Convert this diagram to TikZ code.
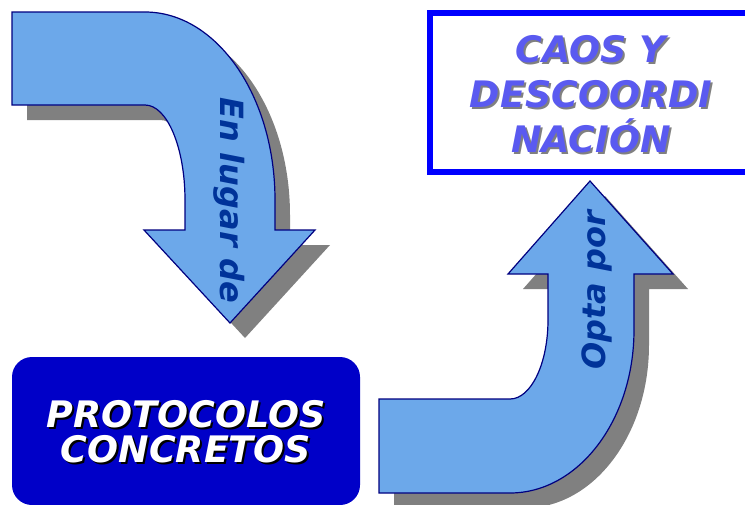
\documentclass[tikz,border=0pt]{standalone}
\usepackage{fontspec}
\setmainfont{DejaVu Sans}
\definecolor{arrowfill}{RGB}{108,168,234}
\definecolor{arrowline}{RGB}{0,0,128}
\definecolor{shadowgrey}{RGB}{128,128,128}
\definecolor{boxdark}{RGB}{0,0,200}
\definecolor{boxline}{RGB}{0,0,255}
\definecolor{chaostext}{RGB}{90,90,240}
\definecolor{arrowtext}{RGB}{0,51,153}
\newcommand\ArrowOnePath{(12,12) -- (145,12) .. controls (216.8,12) and (275,96.2) .. (275,200) -- (275,230) -- (315,230) -- (230,323) -- (144,230) -- (185,230) -- (185,200) .. controls (185,147.6) and (167.1,105) .. (145,105) -- (12,105) -- cycle}
\newcommand\ArrowTwoPath{(379,493) -- (379,399) -- (510,399) .. controls (531,399) and (548,363.6) .. (548,320) -- (548,274) -- (508,274) -- (590,181) -- (673,274) -- (634,274) -- (634,330) .. controls (634,420) and (578.4,493) .. (510,493) -- cycle}
\newcommand\shadowed[3]{\rlap{\kern2pt\raisebox{-2pt}{\color{#1}#3}}{\color{#2}#3}}
\tikzset{
  arrowshadow/.style={fill=shadowgrey, draw=none},
  bentarrow/.style={fill=arrowfill, draw=arrowline, line width=1.2pt, line join=miter},
  bigtext/.style={font=\fontsize{36.5}{45}\selectfont\bfseries\itshape, inner sep=0pt, anchor=base},
  arrowlabel/.style={font=\fontsize{32}{38}\selectfont\bfseries\itshape, text=arrowtext, inner sep=0pt, anchor=base},
}
\begin{document}
\begin{tikzpicture}[x=1pt,y=-1pt]
\useasboundingbox (0,0) rectangle (745,504);
\clip (0,0) rectangle (745,504);
% top-left bent arrow
\path[arrowshadow, shift={(15,15)}] \ArrowOnePath;
\path[bentarrow] \ArrowOnePath;
\node[arrowlabel, rotate=-90] (enlugar) at (220,200) {En lugar de};
% bottom-right bent arrow
\path[arrowshadow, shift={(15,15)}] \ArrowTwoPath;
\path[bentarrow] \ArrowTwoPath;
\node[arrowlabel, rotate=90] (optapor) at (605,290) {Opta por};
% chaos box
\draw[boxline, line width=6pt] (430,13) rectangle (760,172);
\foreach \t/\y/\n in {CAOS Y/62/a,DESCOORDI/107/b,NACIÓN/152/c}{
  \node[bigtext] (caos\n) at (591,\y) {\shadowed{shadowgrey}{chaostext}{\t}};
}
% protocol box
\fill[boxdark, rounded corners=20pt] (12,357) rectangle (360,505);
\foreach \t/\y/\n in {PROTOCOLOS/427/a,CONCRETOS/462/b}{
  \node[bigtext] (prot\n) at (186,\y) {\shadowed{black}{white}{\t}};
}
\end{tikzpicture}
\end{document}
